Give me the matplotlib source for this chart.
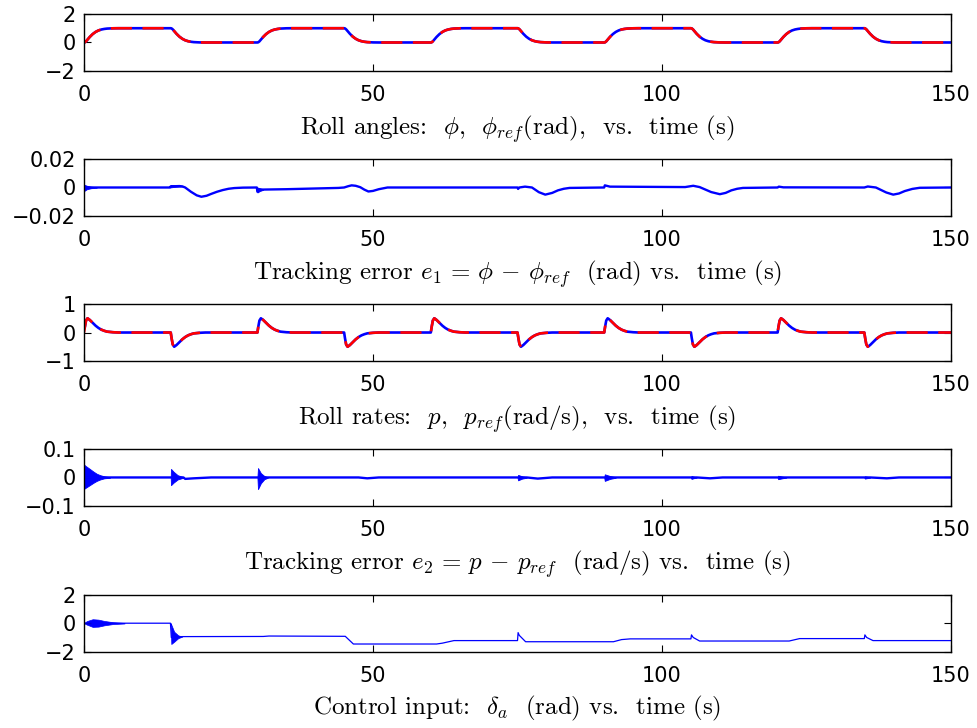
import numpy as np
import matplotlib.pyplot as plt

plt.rcParams['mathtext.fontset'] = 'cm'
plt.rcParams['font.family'] = 'DejaVu Sans'

# reference switching times (s) and direction of each roll manoeuvre
switch_t = [0, 15, 30, 45, 60, 75, 90, 105, 120, 135]
switch_dir = [1, -1, 1, -1, 1, -1, 1, -1, 1, -1]

# shape of one manoeuvre (time after the switch)
shape_dt = [0, 0.15, 0.35, 0.6, 1.0, 1.5, 2.0, 2.5, 3.0, 3.5, 4.0, 5.0, 6.0]
shape_phi = [0, 0.015, 0.08, 0.2, 0.39, 0.59, 0.74, 0.845, 0.91, 0.95, 0.975, 0.995, 1.0]
shape_p = [0, 0.2, 0.42, 0.5, 0.44, 0.34, 0.24, 0.16, 0.1, 0.06, 0.03, 0.01, 0.0]

# e1 tracking error (rad)
e1_t = [0, 2, 14.9, 15, 16.5, 17, 17.5, 18.5, 19.5, 20.3, 21.2, 22, 23, 24, 25, 26, 27.5,
        29.9, 30, 30.3, 35, 40, 44, 45, 45.7, 46.3, 47, 47.8, 48.5, 49.2, 50, 51, 52.5, 75,
        75.1, 75.3, 76.3, 77.5, 78.7, 79.8, 81, 82, 83, 84, 90, 90.1, 91, 104, 105.4, 106.5,
        108.5, 110, 111, 112, 113, 114, 120, 120.2, 121, 135, 135.6, 137, 138.8, 140, 141,
        142, 143.3, 144.6, 150]
e1_v = [0, 0, 0, 0.0008, 0.001, 0.0008, 0, -0.003, -0.0055, -0.0065, -0.0058, -0.0045,
        -0.003, -0.0018, -0.0009, -0.0004, -0.0001, 0, -0.003, -0.0015, -0.0012, -0.0007,
        -0.0003, 0, 0.0009, 0.0015, 0.0012, 0.0002, -0.0015, -0.0028, -0.0024, -0.0012, 0,
        0, -0.001, 0, 0.0006, 0, -0.0033, -0.005, -0.0038, -0.002, -0.0009, -0.0003, 0,
        0.0015, 0.0006, 0.0003, 0.0012, 0.0003, -0.0032, -0.0047, -0.0038, -0.002, -0.0009,
        -0.0003, 0, 0.0006, 0.0001, 0, 0.0007, 0, -0.0035, -0.005, -0.0042, -0.0025, -0.001,
        -0.0002, 0]
e1_burst_t = [[0, 0.5, 1.2, 2.2], [15, 15.6, 16.4, 17.2], [30, 30.4, 31]]
e1_burst_hi = [[0.002, 0.0012, 0.0006, 0.0002], [0.0018, 0.0016, 0.0013, 0.0009],
               [0, -0.0005, -0.0012]]
e1_burst_lo = [[-0.0025, -0.0012, -0.0005, -0.0001], [0.0001, 0.0004, 0.0006, 0.0007],
               [-0.0035, -0.0025, -0.0016]]

# e2 tracking error (rad/s)
e2_t = [0, 17.2, 17.5, 19, 22, 47.5, 49, 51, 76.6, 78.5, 81, 106, 108.3, 110.5, 136,
        138.9, 141, 150]
e2_v = [0, 0, -0.005, -0.003, 0, 0, -0.003, 0, 0, -0.004, 0, 0, -0.003, 0, 0, -0.003, 0, 0]
e2_burst_t = [[0, 0.3, 1, 1.6, 2.2, 2.8, 3.5, 4.5],
              [15, 15.05, 15.5, 16.2, 17.2],
              [30, 30.1, 30.6, 31.2, 31.8],
              [75, 75.1, 75.8, 76.6],
              [90, 90.1, 91, 92],
              [105, 105.1, 105.6, 106],
              [120, 120.1, 120.8, 121.5],
              [135, 135.1, 135.6, 136]]
e2_burst_hi = [[0.045, 0.04, 0.03, 0.021, 0.013, 0.008, 0.004, 0.001],
               [0, 0.03, 0.02, 0.008, 0.001],
               [0, 0.033, 0.015, 0.005, 0.001],
               [0, 0.009, 0.004, 0.001],
               [0, 0.011, 0.005, 0.001],
               [0, 0.005, 0.002, 0.0005],
               [0, 0.006, 0.003, 0.0005],
               [0, 0.004, 0.002, 0.0005]]
e2_burst_lo = [[-0.04, -0.036, -0.027, -0.019, -0.012, -0.007, -0.003, -0.001],
               [0, -0.027, -0.018, -0.007, -0.001],
               [0, -0.041, -0.02, -0.006, -0.001],
               [0, -0.01, -0.004, -0.001],
               [0, -0.012, -0.005, -0.001],
               [0, -0.005, -0.002, -0.0005],
               [0, -0.006, -0.003, -0.0005],
               [0, -0.004, -0.002, -0.0005]]

# aileron deflection delta_a (rad)
da_t = [0, 8, 14.95, 15.1, 17, 31, 32, 45.2, 46.6, 61, 62, 64, 75, 75.1, 75.3, 76.4, 91.6,
        93, 94.5, 105, 105.1, 105.4, 106.5, 122, 123.8, 135, 135.1, 135.4, 136.5, 150]
da_v = [0, 0, 0, -1.0, -0.94, -0.93, -0.9, -0.92, -1.46, -1.46, -1.4, -1.22, -1.22, -0.66,
        -0.85, -1.3, -1.3, -1.15, -1.1, -1.1, -0.82, -1.0, -1.25, -1.25, -1.08, -1.08, -0.82,
        -1.0, -1.22, -1.22]
da_burst_t = [[0, 0.5, 1.5, 2.5, 3.5, 5, 7], [15, 15.1, 15.6, 16.3, 17]]
da_burst_hi = [[0, 0.15, 0.28, 0.25, 0.16, 0.07, 0.02], [0, -0.1, -0.6, -0.85, -0.94]]
da_burst_lo = [[0, -0.1, -0.26, -0.24, -0.15, -0.06, -0.02], [0, -1.46, -1.3, -1.05, -0.94]]

labels = [
    r'Roll angles:  $\phi$,  $\phi_{ref}$(rad),  vs.  time (s)',
    r'Tracking error $e_1\,=\,\phi\,-\,\phi_{ref}$  (rad) vs.  time (s)',
    r'Roll rates:  $p$,  $p_{ref}$(rad/s),  vs.  time (s)',
    r'Tracking error $e_2\,=\,p\,-\,p_{ref}$  (rad/s) vs.  time (s)',
    r'Control input:  $\delta_a$  (rad) vs.  time (s)',
]
ylims = [2, 0.02, 1, 0.1, 2]
yticklabels = [['\u22122', '0', '2'], ['\u22120.02', '0', '0.02'], ['\u22121', '0', '1'],
               ['\u22120.1', '0', '0.1'], ['\u22122', '0', '2']]


def build(shape, stepwise):
    tt, yy = [], []
    for ts, d in zip(switch_t, switch_dir):
        base = (0 if d > 0 else 1) if stepwise else 0
        for dt, s in zip(shape_dt, shape):
            tt.append(ts + dt)
            yy.append(base + d * s)
    tt.append(150)
    yy.append(yy[-1])
    return np.array(tt), np.array(yy)


t_phi, phi = build(shape_phi, True)
t_p, p = build(shape_p, False)
p_first = p.copy()
p_first[0] = 0.12

fig = plt.figure(figsize=(9.77, 7.28), dpi=100)
bottoms = [0.9025, 0.7033, 0.5041, 0.3050, 0.1048]
axes = [fig.add_axes([0.086, b, 0.8874, 0.0783]) for b in bottoms]

blue = (0, 0, 1)
red = (1, 0, 0)

ax = axes[0]
ax.plot(t_phi, phi, color=blue, lw=1.9)
ax.plot(t_phi, phi, color=red, lw=1.9, dashes=(8, 4))

ax = axes[1]
ax.plot(e1_t, e1_v, color=blue, lw=1.7)
for bt, bh, bl in zip(e1_burst_t, e1_burst_hi, e1_burst_lo):
    ax.fill_between(bt, bl, bh, color=blue, lw=0.6)

ax = axes[2]
ax.plot(t_p, p_first, color=blue, lw=1.9)
ax.plot(t_p, p, color=red, lw=1.9, dashes=(8, 4))

ax = axes[3]
ax.plot(e2_t, e2_v, color=blue, lw=1.7)
for bt, bh, bl in zip(e2_burst_t, e2_burst_hi, e2_burst_lo):
    ax.fill_between(bt, bl, bh, color=blue, lw=0.6)

ax = axes[4]
ax.plot(da_t, da_v, color=blue, lw=0.9)
for bt, bh, bl in zip(da_burst_t, da_burst_hi, da_burst_lo):
    ax.fill_between(bt, bl, bh, color=blue, lw=0.5)

for ax, lab, lim, ytl in zip(axes, labels, ylims, yticklabels):
    ax.set_xlim(0, 150)
    ax.set_ylim(-lim, lim)
    ax.set_xticks([0, 50, 100, 150])
    ax.set_xticklabels(['0', '50', '100', '150'])
    ax.set_yticks([-lim, 0, lim])
    ax.set_yticklabels(ytl)
    ax.tick_params(direction='in', top=True, right=True, length=5, width=0.8,
                   labelsize=15)
    ax.tick_params(axis='x', pad=10)
    ax.tick_params(axis='y', pad=6)
    for s in ax.spines.values():
        s.set_linewidth(1.0)
    ax.set_xlabel(lab, fontsize=18, family='cmr10', labelpad=6)

fig.savefig('out.png', dpi=100)
